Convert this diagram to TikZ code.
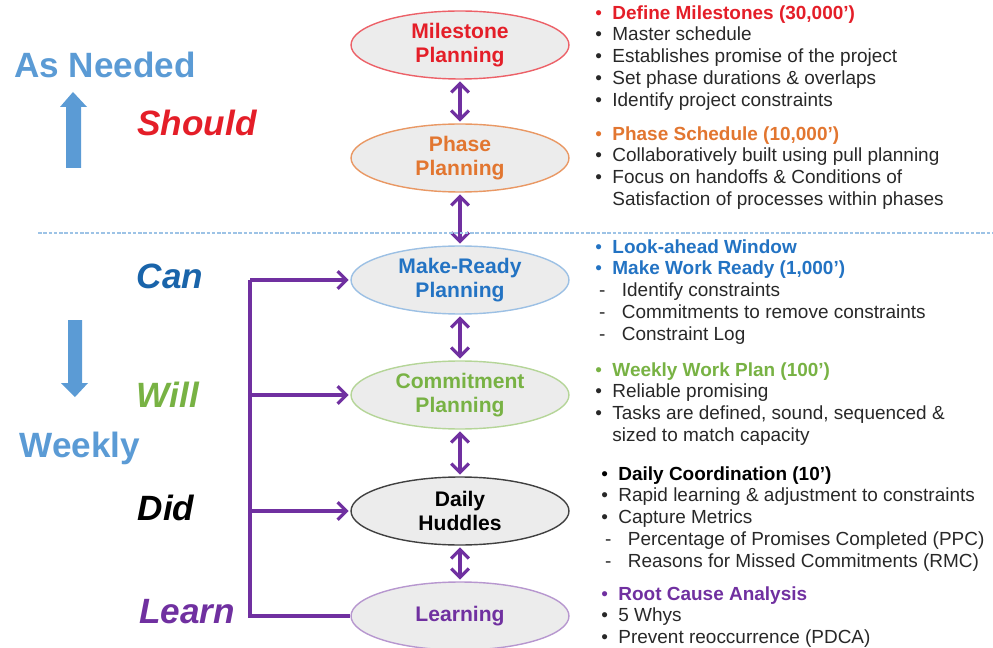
\documentclass[tikz,border=0pt]{standalone}
\usepackage{fontspec}
\setmainfont{Liberation Sans}
\usepackage{xcolor}
\usetikzlibrary{shapes,positioning,arrows.meta}

\definecolor{msred}{RGB}{228,30,40}
\definecolor{phorange}{RGB}{226,118,48}
\definecolor{mrblue}{RGB}{35,115,195}
\definecolor{canblue}{RGB}{25,100,170}
\definecolor{cmgreen}{RGB}{120,178,68}
\definecolor{lnpurple}{RGB}{112,48,160}
\definecolor{ltblue}{RGB}{91,155,213}
\definecolor{planfill}{RGB}{236,236,236}
\definecolor{notegray}{RGB}{40,40,40}

\tikzset{plan/.style={ellipse,draw,fill=planfill,line width=0.8pt,minimum width=4.36cm,minimum height=1.36cm,inner sep=0pt,align=center,font=\fontsize{12}{13.6}\selectfont\bfseries}}
\tikzset{side/.style={font=\fontsize{20}{24}\selectfont\bfseries\itshape}}
\tikzset{notes/.style={anchor=north west,inner sep=0pt,align=left,text=notegray,font=\fontsize{10.8}{12.4}\selectfont}}
\tikzset{link/.style={draw=lnpurple,line width=1.8pt,shorten <=1pt,shorten >=1pt}}

\newcommand{\bul}[1]{\makebox[0.9em][l]{\textbullet}#1}
\newcommand{\dsh}[1]{\hspace{0.2em}\makebox[1.2em][l]{-}#1}
\newcommand{\cnt}[1]{\hspace{0.9em}#1}

\begin{document}
\begin{tikzpicture}[x=0.02cm,y=-0.02cm,>={Straight Barb[length=5pt,width=10pt]}]
    \useasboundingbox (0,0) rectangle (993,648);

    % planning levels
    \node[plan,draw=msred!70,text=msred] (ms) at (460,45) {Milestone\\Planning};
    \node[plan,draw=phorange!75,text=phorange] (ph) at (460,158) {Phase\\Planning};
    \node[plan,draw=mrblue!45,text=mrblue] (mr) at (460,280) {Make-Ready\\Planning};
    \node[plan,draw=cmgreen!55,text=cmgreen] (cm) at (460,395) {Commitment\\Planning};
    \node[plan,draw=black!75,text=black] (dh) at (460,511) {Daily\\Huddles};
    \node[plan,draw=lnpurple!50,text=lnpurple] (ln) at (460,616) {Learning};

    \draw [link,<->] (ms) to [] (ph);
    \draw [link,<->] (ph) to [] (mr);
    \draw [link,<->] (mr) to [] (cm);
    \draw [link,<->] (cm) to [] (dh);
    \draw [link,<->] (dh) to [] (ln);

    % separator
    \draw [ltblue!60,line width=0.7pt,dash pattern=on 2pt off 1pt] (38,233) -- (993,233);

    % feedback bracket
    \coordinate (b1) at (250,280);
    \coordinate (b2) at (250,395);
    \coordinate (b3) at (250,511);
    \coordinate (b4) at (250,616);
    \draw [link,shorten <=0pt,->] (b1) to [] (mr.west);
    \draw [link,shorten <=0pt,->] (b2) to [] (cm.west);
    \draw [link,shorten <=0pt,->] (b3) to [] (dh.west);
    \draw [draw=lnpurple,line width=1.8pt] (b1) -- (b4) -- (ln.west);

    % left labels
    \node[font=\fontsize{20}{24}\selectfont\bfseries,text=ltblue] (asn) at (105,65) {As Needed};
    \node[side,text=msred] (sh) at (197,123) {Should};
    \node[side,text=canblue] (can) at (170,276) {Can};
    \node[side,text=cmgreen] (wil) at (168,395) {Will};
    \node[font=\fontsize{20}{24}\selectfont\bfseries,text=ltblue] (wk) at (80,448) {Weekly};
    \node[side,text=black] (did) at (166,508) {Did};
    \node[side,text=lnpurple] (lrn) at (187,612) {Learn};

    \fill [ltblue] (66,168) -- (66,107) -- (60,107) -- (73,92) -- (87,107) -- (81,107) -- (81,168) -- cycle;
    \fill [ltblue] (68,320) -- (82,320) -- (82,383) -- (88,383) -- (75,397) -- (61,383) -- (68,383) -- cycle;

    % notes
    \node[notes] (n1) at (595,5) {\textcolor{msred}{\bul{\bfseries Define Milestones (30,000')}}\\
        \bul{Master schedule}\\
        \bul{Establishes promise of the project}\\
        \bul{Set phase durations \& overlaps}\\
        \bul{Identify project constraints}};
    \node[notes] (n2) at (595,126) {\textcolor{phorange}{\bul{\bfseries Phase Schedule (10,000')}}\\
        \bul{Collaboratively built using pull planning}\\
        \bul{Focus on handoffs \& Conditions of}\\
        \cnt{Satisfaction of processes within phases}};
    \node[notes] (n3) at (595,239) {\textcolor{mrblue}{\bul{\bfseries Look-ahead Window}}\\
        \textcolor{mrblue}{\bul{\bfseries Make Work Ready (1,000')}}\\
        \dsh{Identify constraints}\\
        \dsh{Commitments to remove constraints}\\
        \dsh{Constraint Log}};
    \node[notes] (n4) at (595,362) {\textcolor{cmgreen}{\bul{\bfseries Weekly Work Plan (100')}}\\
        \bul{Reliable promising}\\
        \bul{Tasks are defined, sound, sequenced \&}\\
        \cnt{sized to match capacity}};
    \node[notes] (n5) at (601,466) {\textcolor{black}{\bul{\bfseries Daily Coordination (10')}}\\
        \bul{Rapid learning \& adjustment to constraints}\\
        \bul{Capture Metrics}\\
        \dsh{Percentage of Promises Completed (PPC)}\\
        \dsh{Reasons for Missed Commitments (RMC)}};
    \node[notes] (n6) at (601,586) {\textcolor{lnpurple}{\bul{\bfseries Root Cause Analysis}}\\
        \bul{5 Whys}\\
        \bul{Prevent reoccurrence (PDCA)}};
\end{tikzpicture}
\end{document}
